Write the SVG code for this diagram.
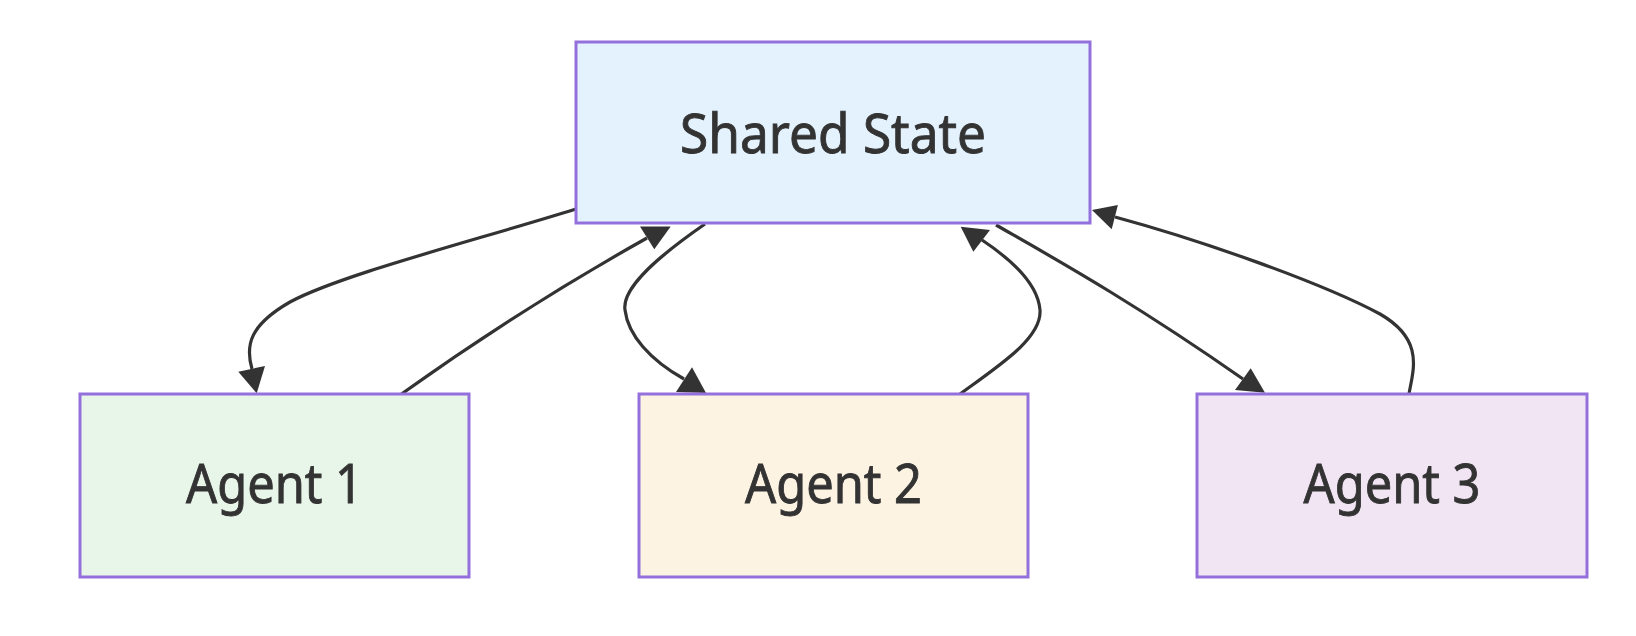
<svg xmlns="http://www.w3.org/2000/svg" width="1636" height="636" viewBox="0 0 1636 636">
<style>
.node rect{stroke:#9370DB;stroke-width:3}
.node text{font-family:"Noto Sans","Liberation Sans",sans-serif;font-size:54px;fill:#333333;stroke:#333333;stroke-width:0.9px;text-anchor:middle}
.edge{fill:none;stroke:#333333;stroke-width:3.2}
.head{fill:#333333;stroke:none}
</style>
<rect width="1636" height="636" fill="#ffffff"/>
<g id="connectors">
<path class="edge" d="M576,209 C470,242 340,275 290,302 C250,325 245,345 252,369"/>
<polygon class="head" points="238.3,371.7 265,366 256.7,393.3"/>
<path class="edge" d="M401.5,394 C460,352 540,298 647,238"/>
<polygon class="head" points="640,226.5 670.7,226.5 654.3,249.3"/>
<path class="edge" d="M705,224 C650,262 622,290 625,310 C628,335 650,360 684,379"/>
<polygon class="head" points="676,392 692,367.3 706,393"/>
<path class="edge" d="M960,394 C1000,365 1042,338 1040,310 C1038,285 1015,262 982,240"/>
<polygon class="head" points="960.7,226.7 990,230 973.3,251.7"/>
<path class="edge" d="M996,225 C1050,256 1130,300 1243,379"/>
<polygon class="head" points="1235,390 1250.7,368.3 1265,392.7"/>
<path class="edge" d="M1409,394 C1413,370 1425,340 1380,314 C1320,282 1200,240 1115,217"/>
<polygon class="head" points="1092,210 1117.9,205 1111.7,229.3"/>
</g>
<g id="shared-state" class="node">
<rect x="576" y="42" width="514" height="181" fill="#E3F2FD"/>
<text x="833" y="153" textLength="306" lengthAdjust="spacingAndGlyphs">Shared State</text>
</g>
<g id="agent-1" class="node">
<rect x="80" y="394" width="389" height="183" fill="#E8F5E9"/>
<text x="274.5" y="503" textLength="177" lengthAdjust="spacingAndGlyphs">Agent 1</text>
</g>
<g id="agent-2" class="node">
<rect x="639" y="394" width="389" height="183" fill="#FCF3E3"/>
<text x="833.5" y="503" textLength="177" lengthAdjust="spacingAndGlyphs">Agent 2</text>
</g>
<g id="agent-3" class="node">
<rect x="1197" y="394" width="390" height="183" fill="#F1E4F3"/>
<text x="1392" y="503" textLength="177" lengthAdjust="spacingAndGlyphs">Agent 3</text>
</g>
</svg>
